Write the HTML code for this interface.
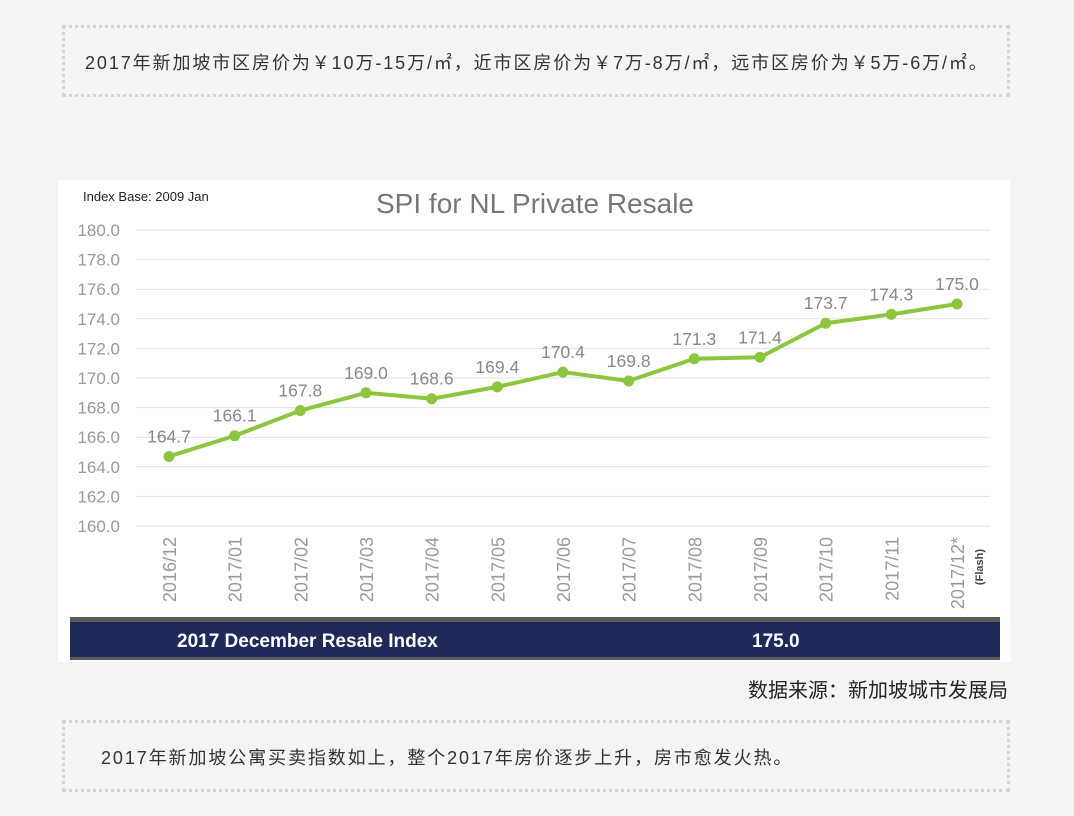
<!DOCTYPE html>
<html><head><meta charset="utf-8"><style>
body{margin:0;width:1074px;height:816px;background:#f4f4f4;position:relative;overflow:hidden;font-family:"Liberation Sans","Noto Sans CJK SC",sans-serif;}
.box{position:absolute;left:62px;width:942px;height:66px;border:3px dotted #d4d4d4;box-sizing:content-box;color:#333;font-size:18px;letter-spacing:1.9px;}
.box span{position:absolute;top:21px;white-space:nowrap;}
</style></head><body>
<div class="box" style="top:25px"><span style="left:20px">2017年新加坡市区房价为￥10万-15万/㎡，近市区房价为￥7万-8万/㎡，远市区房价为￥5万-6万/㎡。</span></div>
<svg style="position:absolute;left:0;top:0" width="1074" height="816">
<rect x="58" y="180" width="953" height="482" fill="#fff"/>
<text x="83" y="201" font-size="13" fill="#222">Index Base: 2009 Jan</text>
<text x="535" y="213" font-size="28" fill="#777" text-anchor="middle">SPI for NL Private Resale</text>
<g id="grid"></g><g id="yl"></g><g id="xl"></g>
<path id="line" fill="none" stroke="#8cc63f" stroke-width="4" stroke-linejoin="round"/>
<g id="pts"></g><g id="vl"></g>
<rect x="70" y="617" width="930" height="43" fill="#5a5a5a"/>
<rect x="70" y="622" width="930" height="35" fill="#1f2a5a"/>
<text x="177" y="647" font-size="19" font-weight="bold" fill="#fff">2017 December Resale Index</text>
<text x="752" y="647" font-size="19" font-weight="bold" fill="#fff">175.0</text>
<text x="1008" y="697" font-size="20" fill="#222" text-anchor="end">数据来源：新加坡城市发展局</text>
</svg>
<div class="box" style="top:720px"><span style="left:36px">2017年新加坡公寓买卖指数如上，整个2017年房价逐步上升，房市愈发火热。</span></div>
<script>
const categories=["2016/12","2017/01","2017/02","2017/03","2017/04","2017/05","2017/06","2017/07","2017/08","2017/09","2017/10","2017/11","2017/12*"];
const values=[164.7,166.1,167.8,169.0,168.6,169.4,170.4,169.8,171.3,171.4,173.7,174.3,175.0];
const yTicks=[160,162,164,166,168,170,172,174,176,178,180];
const NS="http://www.w3.org/2000/svg";
const x=i=>169+i*(957-169)/(categories.length-1);
const y=v=>526-(v-160)*(526-230)/20;
function mk(t,a,p){const e=document.createElementNS(NS,t);for(const k in a)e.setAttribute(k,a[k]);document.getElementById(p).appendChild(e);return e;}
yTicks.forEach(v=>{
 const g=mk('line',{x1:136,x2:990,y1:y(v),y2:y(v),stroke:'#e2e2e2','stroke-width':1},'grid');
 
 
 const t=mk('text',{x:120,y:y(v)+6,'font-size':17,fill:'#999','text-anchor':'end'},'yl');
 t.textContent=v.toFixed(1);
 
 
});
categories.forEach((c,i)=>{
 const t=mk('text',{x:0,y:0,'font-size':18,fill:'#999','text-anchor':'end',transform:`translate(${x(i)+7},537) rotate(-90)`},'xl');
 t.textContent=c;
 
 
});
const f=mk('text',{x:0,y:0,'font-size':11,'font-weight':'bold',fill:'#444','text-anchor':'end',transform:`translate(${x(12)+26},549) rotate(-90)`},'xl');
f.textContent='(Flash)';


document.getElementById('line').setAttribute('d',values.map((v,i)=>(i?'L':'M')+x(i)+' '+y(v)).join(''));
values.forEach((v,i)=>{
 const c=mk('circle',{cx:x(i),cy:y(v),r:5.5,fill:'#8cc63f'},'pts');
 
 
 const t=mk('text',{x:x(i),y:y(v)-14,'font-size':17.5,fill:'#888','text-anchor':'middle'},'vl');
 t.textContent=v.toFixed(1);
 
 
});
</script>
</body></html>
